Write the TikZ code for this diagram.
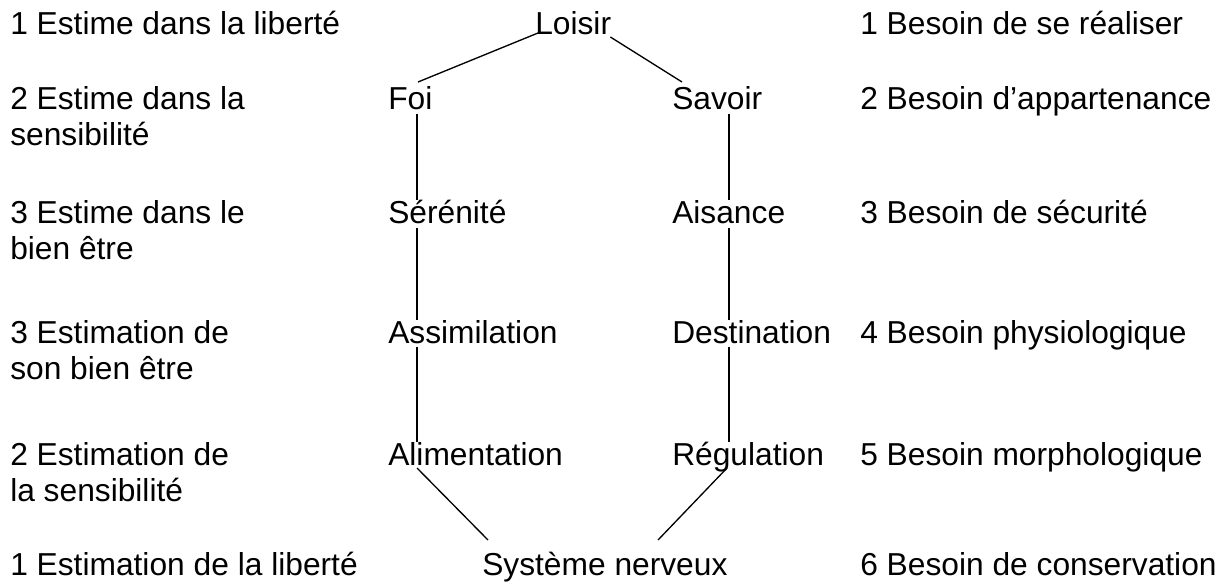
\documentclass[tikz,border=0pt]{standalone}
\usepackage{fontspec}
\setmainfont{Liberation Sans}
\usetikzlibrary{calc}
\begin{document}
\begin{tikzpicture}[x=0.75pt,y=-0.75pt,
  lbl/.style={anchor=base west, inner sep=0pt, align=left,
    font=\fontsize{23.8pt}{27pt}\selectfont},
  link/.style={line width=1pt, black}]
\useasboundingbox (0,0) rectangle (1230,586);

% left column: estimations (two-line labels are placed by their last baseline)
\node[lbl] (l1) at (10,34)  {1 Estime dans la liberté};
\node[lbl] (l2) at (10,145) {2 Estime dans la\\sensibilité};
\node[lbl] (l3) at (10,259) {3 Estime dans le\\bien être};
\node[lbl] (l4) at (10,379) {3 Estimation de\\son bien être};
\node[lbl] (l5) at (10,501) {2 Estimation de\\la sensibilité};
\node[lbl] (l6) at (10,575) {1 Estimation de la liberté};

% central hexagon of terms
\node[lbl] (loisir) at (535,34)  {Loisir};
\node[lbl] (foi)    at (388,109) {Foi};
\node[lbl] (seren)  at (388,223) {Sérénité};
\node[lbl] (assim)  at (388,343) {Assimilation};
\node[lbl] (alim)   at (388,465) {Alimentation};
\node[lbl] (savoir) at (672,109) {Savoir};
\node[lbl] (aisance) at (672,223) {Aisance};
\node[lbl] (dest)   at (672,343) {Destination};
\node[lbl] (regul)  at (672,465) {Régulation};
\node[lbl] (sysn)   at (482,575) {Système nerveux};

% right column: needs
\node[lbl] (r1) at (860,34)  {1 Besoin de se réaliser};
\node[lbl] (r2) at (860,109) {2 Besoin d’appartenance};
\node[lbl] (r3) at (860,223) {3 Besoin de sécurité};
\node[lbl] (r4) at (860,343) {4 Besoin physiologique};
\node[lbl] (r5) at (860,465) {5 Besoin morphologique};
\node[lbl] (r6) at (860,575) {6 Besoin de conservation};

% connectors
\draw[link] ($(loisir.base west)+(3,-1)$) -- ($(foi.base west)+(30,-27)$);
\draw[link] ($(loisir.base east)+(-1,3)$) -- ($(savoir.base west)+(10,-27)$);
\draw[link] ($(foi.base west)+(29,5)$) -- ($(seren.base west)+(29,-23)$);
\draw[link] ($(seren.base west)+(29,5)$) -- ($(assim.base west)+(29,-23)$);
\draw[link] ($(assim.base west)+(29,4)$) -- ($(alim.base west)+(29,-23)$);
\draw[link] ($(savoir.base west)+(57,5)$) -- ($(aisance.base west)+(57,-23)$);
\draw[link] ($(aisance.base west)+(57,5)$) -- ($(dest.base west)+(57,-23)$);
\draw[link] ($(dest.base west)+(57,4)$) -- ($(regul.base west)+(57,-23)$);
\draw[link] ($(alim.base west)+(29,3)$) -- ($(sysn.base west)+(6,-35)$);
\draw[link] ($(regul.base west)+(55,3)$) -- ($(sysn.base west)+(176,-35)$);
\end{tikzpicture}
\end{document}
